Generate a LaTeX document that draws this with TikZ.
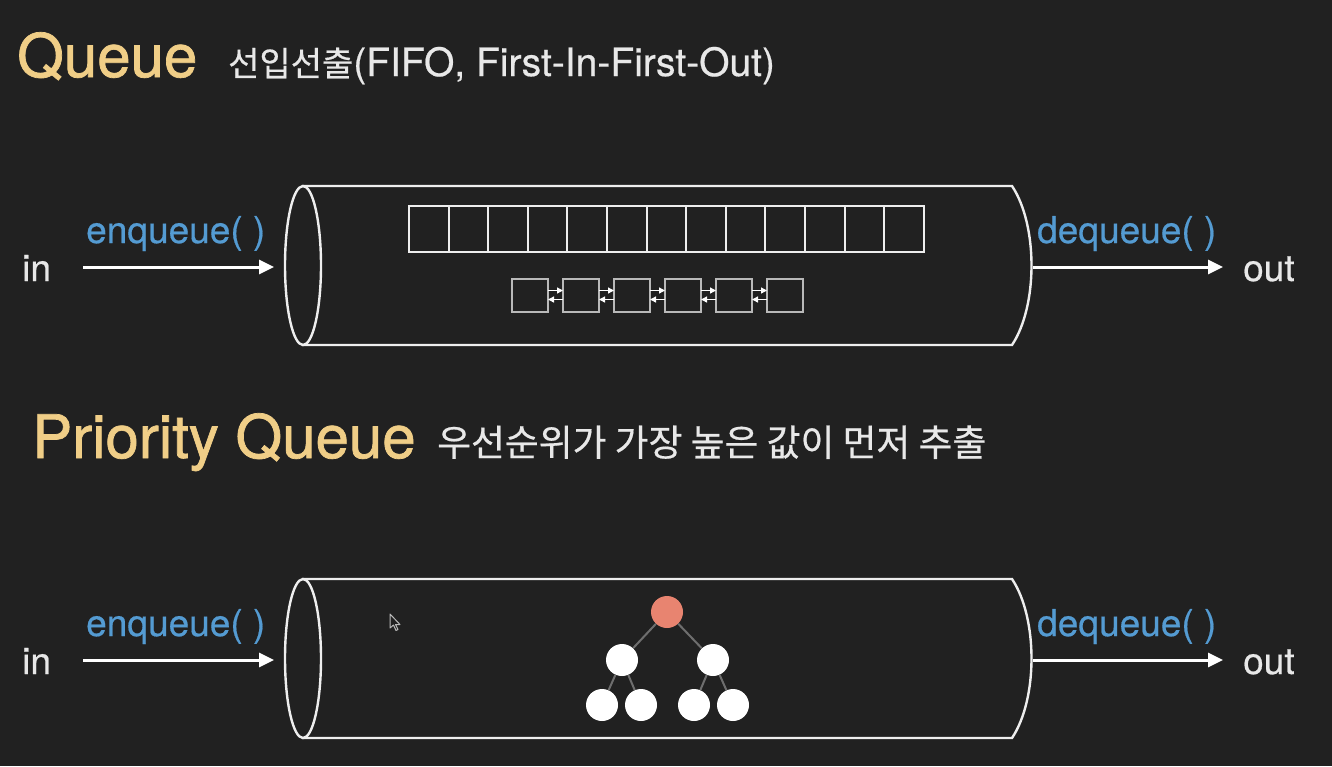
\documentclass[tikz,border=0pt]{standalone}
\usepackage{fontspec}
\setmainfont{TeX Gyre Heros}
\newfontfamily\titlefont[FakeBold=1.2]{TeX Gyre Heros}
\newfontfamily\lblfont[FakeBold=0.5]{TeX Gyre Heros}
\newfontfamily\krfont[FakeBold=0.5]{Noto Sans CJK KR}
\usetikzlibrary{arrows.meta}
\definecolor{bg}{RGB}{33,33,33}
\definecolor{gold}{RGB}{240,206,135}
\definecolor{callblue}{RGB}{84,155,210}
\definecolor{coral}{RGB}{232,132,112}
\definecolor{lineW}{RGB}{238,238,238}
\definecolor{listgray}{RGB}{185,185,185}
\definecolor{edgegray}{RGB}{110,110,110}
\definecolor{txtW}{RGB}{232,232,232}
\tikzset{
  title/.style={anchor=base west, inner sep=0pt, text=gold, font=\titlefont\fontsize{60}{70}\selectfont},
  subtitle/.style={anchor=base west, inner sep=0pt, text=txtW},
  lbl/.style={anchor=base west, inner sep=0pt, text=txtW, font=\lblfont\fontsize{37}{44}\selectfont},
  call/.style={anchor=base west, inner sep=0pt, text=callblue, font=\lblfont\fontsize{37}{44}\selectfont},
  bigarrow/.style={draw=white, line width=3pt, -{Triangle[length=15pt,width=14pt]}},
  cyl/.style={draw=lineW, line width=2.4pt, fill=bg},
  cell/.style={draw=lineW, line width=2pt, minimum width=39.6pt, minimum height=46pt, inner sep=0pt, outer sep=0pt},
  lbox/.style={draw=listgray, line width=1.6pt, minimum width=36pt, minimum height=33pt, inner sep=0pt, outer sep=0pt},
  larrow/.style={draw=white, line width=1.3pt, -{Triangle[length=6pt,width=6pt]}},
  tnode/.style={circle, fill=white, minimum size=32pt, inner sep=0pt},
  troot/.style={circle, fill=coral, minimum size=32pt, inner sep=0pt},
  tedge/.style={draw=edgegray, line width=2pt}
}
\begin{document}
\begin{tikzpicture}[x=1pt,y=-1pt]
\fill[bg] (0,0) rectangle (1332,766);
\useasboundingbox (0,0) rectangle (1332,766);

% ---------- titles ----------
\node[title] (qtitle) at (17,77) {Queue};
\node[subtitle] (qsub) at (228,76) {{\krfont\fontsize{34}{40}\selectfont 선입선출}{\lblfont\fontsize{39}{44}\selectfont(FIFO, First-In-First-Out)}};
\node[title] (pqtitle) at (32,458) {Priority Queue};
\node[subtitle] (pqsub) at (437,456) {\krfont\fontsize{36.8}{44}\selectfont 우선순위가 가장 높은 값이 먼저 추출};

% ---------- queue cylinder ----------
\draw[cyl] (303,186) -- (1012,186) .. controls (1038,225) and (1038,306) .. (1012,345) -- (303,345) -- cycle;
\draw[cyl] (303,265.5) ellipse [x radius=18, y radius=79.5];

% array
\foreach \i in {0,...,12}{
  \node[cell] (a\i) at ({409+39.6*\i+19.8},229) {};
}
% linked list
\foreach \i in {0,...,5}{
  \node[lbox] (l\i) at ({530+51*\i},295.5) {};
}
\foreach \i [evaluate=\i as \j using int(\i+1)] in {0,...,4}{
  \draw[larrow] ([yshift=5pt]l\i.east) -- ([yshift=5pt]l\j.west);
  \draw[larrow] ([yshift=-4pt]l\j.west) -- ([yshift=-4pt]l\i.east);
}

% arrows and labels row 1
\coordinate (in1) at (83,267);
\coordinate (cylL1) at (274,267);
\coordinate (cylR1) at (1033,267);
\coordinate (out1) at (1223,267);
\draw[bigarrow] (in1) -- (cylL1);
\draw[bigarrow] (cylR1) -- (out1);
\node[lbl] (inlbl1) at (22,281) {in};
\node[call] (enq1) at (86,243) {enqueue( )};
\node[call] (deq1) at (1037,243) {dequeue( )};
\node[lbl] (outlbl1) at (1243,281) {out};

% ---------- priority queue cylinder ----------
\draw[cyl] (303,579) -- (1012,579) .. controls (1038,618) and (1038,699) .. (1012,738) -- (303,738) -- cycle;
\draw[cyl] (303,658.5) ellipse [x radius=18, y radius=79.5];

% heap tree
\node[troot] (r) at (667,612) {};
\node[tnode] (b1) at (622,660) {};
\node[tnode] (b2) at (713,660) {};
\node[tnode] (c1) at (602,705) {};
\node[tnode] (c2) at (641,705) {};
\node[tnode] (c3) at (694,705) {};
\node[tnode] (c4) at (733,705) {};
\draw[tedge] (r) -- (b1);
\draw[tedge] (r) -- (b2);
\draw[tedge] (b1) -- (c1);
\draw[tedge] (b1) -- (c2);
\draw[tedge] (b2) -- (c3);
\draw[tedge] (b2) -- (c4);

% cursor
\draw[fill=bg, draw=listgray, line width=1pt, line join=round]
  (390,614) -- (390,628) -- (393.5,625) -- (396,630.5) -- (398,629.5) -- (395.5,624.5) -- (400,624.5) -- cycle;

% arrows and labels row 2
\coordinate (in2) at (83,660);
\coordinate (cylL2) at (274,660);
\coordinate (cylR2) at (1033,660);
\coordinate (out2) at (1223,660);
\draw[bigarrow] (in2) -- (cylL2);
\draw[bigarrow] (cylR2) -- (out2);
\node[lbl] (inlbl2) at (22,674) {in};
\node[call] (enq2) at (86,636) {enqueue( )};
\node[call] (deq2) at (1037,636) {dequeue( )};
\node[lbl] (outlbl2) at (1243,674) {out};
\end{tikzpicture}
\end{document}
